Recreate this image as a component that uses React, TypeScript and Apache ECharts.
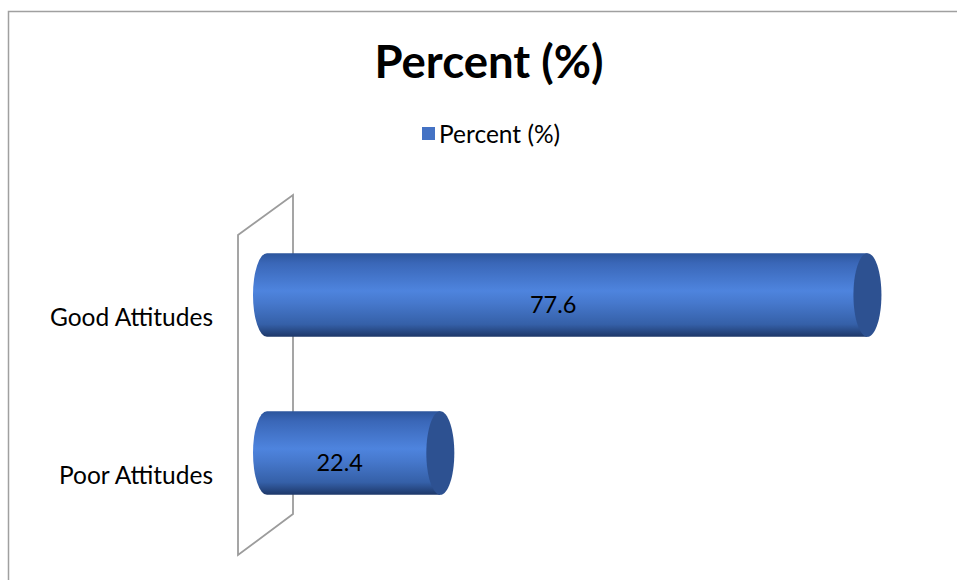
import React, { useEffect, useRef } from "react";
import * as echarts from "echarts";

const categories = ["Good Attitudes", "Poor Attitudes"];
const values = [77.6, 22.4];
const seriesName = "Percent (%)";
const chartTitle = "Percent (%)";

const FONT = "Lato, 'Noto Sans', sans-serif";

export default function App() {
  const ref = useRef<HTMLDivElement>(null);
  useEffect(() => {
    if (!ref.current) return;
    const chart = echarts.init(ref.current, null, { renderer: "svg" });
    const data = values.map((v, i) => [v, i]);
    const option: any = {
      animation: false,
      backgroundColor: "#ffffff",
      title: {
        text: chartTitle,
        left: 484,
        top: 32,
        textAlign: "center",
        textStyle: { fontFamily: FONT, fontSize: 45.5, fontWeight: "bold", color: "#000" },
      },
      legend: {
        data: [seriesName],
        left: 417,
        top: 116,
        icon: "rect",
        itemWidth: 13,
        itemHeight: 13,
        itemGap: 8,
        textStyle: { fontFamily: FONT, fontSize: 24.5, color: "#000", padding: [0, 0, 0, -1] },
      },
      grid: { left: 267, right: 71, top: 216, bottom: 48, containLabel: false },
      xAxis: {
        type: "value",
        min: 0,
        max: 80,
        show: false,
      },
      yAxis: {
        type: "category",
        data: categories,
        inverse: true,
        axisLine: { show: false },
        axisTick: { show: false },
        axisLabel: {
          margin: 54,
          formatter: (v: string) => `{a|${v}}`,
          rich: {
            a: {
              fontFamily: FONT,
              fontSize: 24.5,
              color: "#000",
              padding: [42, 0, 0, 0],
            },
          },
        },
      },
      graphic: [
        {
          type: "polygon",
          z: 0,
          shape: { points: [[238, 235], [293, 195], [293, 514], [238, 555]] },
          style: { fill: "none", stroke: "#9c9c9c", lineWidth: 1.8 },
        },
        {
          type: "polyline",
          z: 0,
          shape: { points: [[8.5, 580], [8.5, 11.5], [957, 11.5]] },
          style: { fill: "none", stroke: "#a0a0a0", lineWidth: 1.5 },
        },
      ],
      series: [
        {
          name: seriesName,
          type: "custom",
          z: 5,
          itemStyle: { color: "#4472C4" },
          encode: { x: 0, y: 1 },
          data,
          renderItem: (params: any, api: any) => {
            const v = api.value(0);
            const c = api.value(1);
            const s = api.coord([0, c]);
            const e = api.coord([v, c]);
            const band = api.size([0, 1])[1];
            const h = band * 0.53;
            const ry = h / 2;
            const rx = 14;
            const x0 = s[0];
            const x1 = e[0];
            const cy = s[1];
            const top = cy - ry;
            const bot = cy + ry;
            const body =
              `M ${x0} ${top} L ${x1} ${top} L ${x1} ${bot} L ${x0} ${bot} ` +
              `A ${rx} ${ry} 0 0 1 ${x0} ${top} Z`;
            return {
              type: "group",
              children: [
                {
                  type: "path",
                  shape: { pathData: body },
                  style: {
                    fill: new echarts.graphic.LinearGradient(0, 0, 0, 1, [
                      { offset: 0, color: "#2c559c" },
                      { offset: 0.12, color: "#3a67b8" },
                      { offset: 0.45, color: "#4e84de" },
                      { offset: 0.6, color: "#4678cc" },
                      { offset: 0.85, color: "#3560a8" },
                      { offset: 1, color: "#1d3768" },
                    ]),
                    stroke: null,
                  },
                },
                {
                  type: "ellipse",
                  shape: { cx: x1, cy, rx, ry },
                  style: { fill: "#2d5191", stroke: null },
                },
                {
                  type: "text",
                  style: {
                    text: String(v),
                    x: (x0 - rx + x1 - rx) / 2,
                    y: cy + 9,
                    align: "center",
                    verticalAlign: "middle",
                    fill: "#000",
                    fontFamily: FONT,
                    fontSize: 23.5,
                  },
                },
              ],
            };
          },
        },
      ],
    };
    chart.setOption(option);
    return () => chart.dispose();
  }, []);
  return (
    <div
      ref={ref}
      style={{ position: "fixed", left: 0, top: 0, width: 957, height: 580 }}
    />
  );
}
